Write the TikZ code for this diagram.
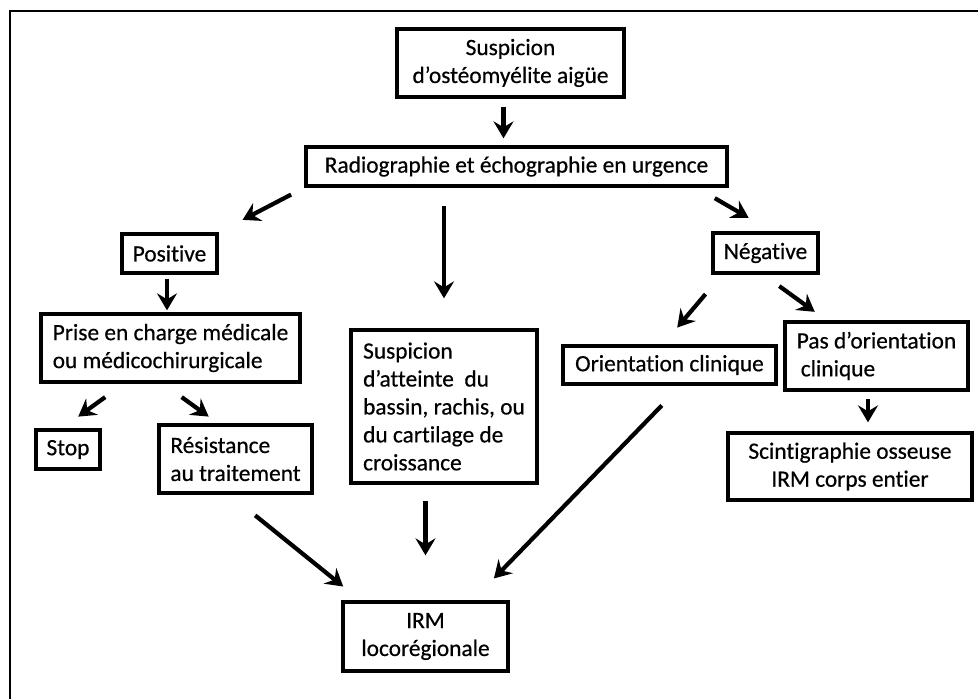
\documentclass[tikz,border=0pt]{standalone}
\usepackage{fontspec}
\setmainfont{Carlito}[FakeBold=0.5,Ligatures=NoCommon]
\usetikzlibrary{arrows.meta}
\tikzset{
  box/.style={draw, line width=1.9pt, inner xsep=0.2cm, inner ysep=0pt,
    align=center, font=\fontsize{13.3pt}{15.9pt}\selectfont},
  lbox/.style={box, align=left},
  flow/.style={line width=2.4pt,
    -{Stealth[length=0.34cm,width=0.4cm,inset=0.12cm]}}
}

\begin{document}
\begin{tikzpicture}[x=0.02cm,y=-0.02cm]
                % page and frame
                \useasboundingbox (0,0) rectangle (978,699);
                \clip (0,0) rectangle (978,699);
                \fill[white] (0,0) rectangle (978,699);
                \draw[line width=1.1pt] (10,11) rectangle (1010,730);

                % top of the tree
                \node[box, minimum width=4.54cm, minimum height=1.36cm] (top) at (510.5,63)
                    {Suspicion\\d’ostéomyélite aigüe};
                \node[box, minimum width=8.42cm, minimum height=0.78cm] (radio) at (516.5,166.5)
                    {Radiographie et échographie en urgence};

                % left branch
                \node[box, minimum width=1.9cm, minimum height=0.78cm] (pos) at (169.5,253.5) {Positive};
                \node[lbox, minimum width=5.18cm, minimum height=1.36cm] (prise) at (170.5,348)
                    {Prise en charge médicale\\ou médicochirurgicale};
                \node[box, minimum width=1.28cm, minimum height=0.78cm] (stop) at (68,449.5) {Stop};
                \node[lbox, minimum width=3.06cm, minimum height=1.36cm] (resist) at (235.5,459)
                    {Résistance\\au traitement};

                % middle branch
                \node[lbox, minimum width=3.72cm, minimum height=3.06cm] (susp) at (444,406.5)
                    {Suspicion\\d’atteinte\ \ du\\bassin, rachis, ou\\du cartilage de\\croissance};
                \node[box, minimum width=3.3cm, minimum height=1.38cm] (irm) at (425.5,636.5)
                    {IRM\\locorégionale};

                % right branch
                \node[box, minimum width=2.1cm, minimum height=0.8cm] (neg) at (765.5,253) {Négative};
                \node[box, minimum width=4.26cm, minimum height=0.76cm] (orient) at (669.5,365)
                    {Orientation clinique};
                \node[lbox, minimum width=3.66cm, minimum height=1.36cm] (pas) at (876.5,356)
                    {Pas d’orientation\\\hspace{0.08cm}clinique};
                \node[box, minimum width=4.88cm, minimum height=1.34cm] (scinti) at (850,466.5)
                    {Scintigraphie osseuse\\IRM corps entier};

                % arrows
                \draw[flow, shorten <=0.16cm, shorten >=0.14cm]
                    ([xshift=-0.14cm]top.south) -- ([xshift=-0.14cm]top.south |- radio.north);
                \draw[flow, shorten <=0.3cm, shorten >=0.54cm] (radio.south west) -- (pos.north east);
                \draw[flow, shorten <=0.36cm, shorten >=0.6cm] (susp.north |- radio.south) -- (susp.north);
                \draw[flow, shorten <=0.42cm, shorten >=0.54cm]
                    ([xshift=-0.64cm]radio.south east) -- ([xshift=0.13cm]neg.north);

                \draw[flow, shorten <=0.08cm, shorten >=0.04cm]
                    ([xshift=-0.05cm]pos.south) -- ([xshift=-0.05cm]pos.south |- prise.north);
                \draw[flow, shorten <=0.46cm, shorten >=0.4cm]
                    ([xshift=1.69cm]prise.south west) -- ([xshift=-0.12cm]stop.north);
                \draw[flow, shorten <=0.46cm, shorten >=0.23cm]
                    ([xshift=-0.15cm]prise.south) -- ([xshift=-0.35cm]resist.north);
                \draw[flow, shorten <=0.66cm, shorten >=0.44cm]
                    ([xshift=-0.12cm]resist.south) -- ([xshift=0.38cm]irm.north west);

                \draw[flow, shorten <=0.32cm, shorten >=0.9cm] (irm.north |- susp.south) -- (irm.north);

                \draw[flow, shorten <=0.51cm, shorten >=0.44cm]
                    ([xshift=-0.87cm]neg.south) -- ([xshift=-0.13cm]orient.north);
                \draw[flow, shorten <=0.39cm, shorten >=0.29cm]
                    ([xshift=-0.04cm]neg.south) -- ([xshift=-1cm]pas.north);
                \draw[flow, shorten <=0.55cm, shorten >=0.61cm]
                    ([xshift=0.23cm]orient.south) -- ([xshift=-0.74cm]irm.north east);
                \draw[flow, shorten <=0.14cm, shorten >=0.18cm]
                    ([xshift=-0.17cm]pas.south) -- ([xshift=-0.17cm]pas.south |- scinti.north);
\end{tikzpicture}
\end{document}
